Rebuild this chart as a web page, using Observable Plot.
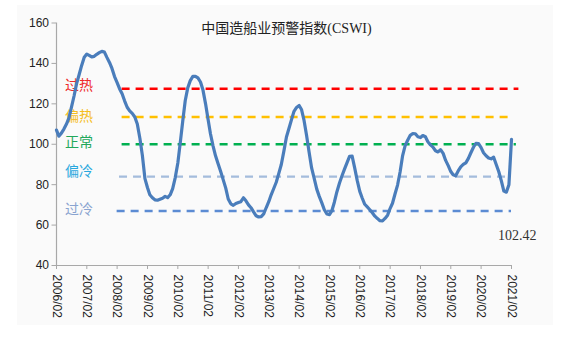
<!DOCTYPE html>
<html>
<head>
<meta charset="utf-8">
<script src="https://cdn.jsdelivr.net/npm/d3@7"></script>
<script src="https://cdn.jsdelivr.net/npm/@observablehq/plot@0.6"></script>
<style>
  html, body { margin: 0; padding: 0; background: #ffffff; }
  #wrap { position: relative; width: 565px; height: 344px; overflow: hidden; }
  #panel { position: absolute; left: 17px; top: 5px; width: 536px; height: 320px; background: #fafafa; }
  #chart { position: absolute; left: 0; top: 0; }
</style>
</head>
<body>
<div id="wrap"><div id="panel"></div><div id="chart"></div></div>
<script>
// ---- data ----
const title = "中国造船业预警指数(CSWI)";
const startYear = 2006, startMonthIndex = 1; // 2006/02
// monthly CSWI values, 2006/02 ... 2021/02 (one row per year, Feb..Jan)
const cswi = [
  107, 104, 105.5, 107.5, 110, 113, 118.5, 124, 130, 134.5, 139, 143,
  144.6, 144, 143.2, 143.5, 144.5, 145.3, 146, 145.6, 143, 140.5, 137.5, 133.5,
  130.5, 127.5, 125, 121.5, 118.3, 116.5, 115.3, 113.5, 110, 103, 94.5, 83,
  78.5, 75, 73.5, 72.5, 72.3, 72.8, 73.3, 74.2, 73.6, 75, 78, 83.5,
  90.7, 100.3, 111.4, 121.5, 128, 131.5, 133.6, 133.6, 132.8, 130.8, 126.8, 120,
  112.1, 105.2, 99.2, 94.3, 90.4, 86.6, 82.5, 78.3, 72.9, 70.5, 69.8, 70.7,
  71.2, 71.6, 73.5, 72, 70, 68.6, 66.5, 64.6, 64, 64.2, 65.5, 68.7,
  71.7, 75, 78.1, 81.2, 85.6, 90, 96.6, 103.6, 107.8, 112.2, 116.3, 118.2,
  119.2, 117.2, 111.8, 104.4, 96, 88.3, 83.1, 77.8, 74.2, 71, 67.6, 65.5,
  65.2, 67, 71.3, 76.4, 80.7, 84.3, 87.7, 90.9, 94, 94.1, 88.4, 82.1,
  76.7, 73.4, 70.3, 69, 67.6, 66.1, 64.4, 63.2, 62.2, 62.1, 63.3, 64.9,
  68.3, 70.8, 75.5, 79.8, 86.4, 94.4, 99.4, 102.1, 104.4, 105.3, 105.2, 103.7,
  103.3, 104.3, 103.7, 101.2, 99.7, 98.6, 96.8, 96.2, 97.3, 95.5, 92, 89.4,
  86.5, 84.9, 84.4, 86.8, 88.8, 90, 90.8, 93, 95.8, 98.5, 100.5, 100.3,
  98.3, 95.8, 94.3, 93.2, 92.8, 93.6, 90, 86.4, 82, 76.8, 76.3, 80,
  102.42
];
const levelNames = ["过热", "偏热", "正常", "偏冷", "过冷"];
const levelValues = [127.5, 113.5, 100, 84, 67];
const levelStart = ["2008-04", "2008-04", "2008-04", "2008-03", "2008-02"];
const levelEnd = ["2021-05", "2021-03", "2021-04", "2021-02", "2021-02"];
const xTickLabels = ["2006/02","2007/02","2008/02","2009/02","2010/02","2011/02","2012/02","2013/02",
  "2014/02","2015/02","2016/02","2017/02","2018/02","2019/02","2020/02","2021/02"];
const yTicks = [40, 60, 80, 100, 120, 140, 160];

// ---- styles ----
const levelColors = ["#ff0000", "#ffc000", "#00b050", "#a4bcdc", "#5b8bd3"];
const labelColors = ["#ee2a2a", "#f5be1e", "#22a85a", "#2aa8de", "#8aa4d0"];
const labelDy = [-3, 0, -2, -5, -1.5];
const lineWidths = [2.6, 2.6, 2.6, 2.4, 2.4];

// ---- build ----
const parseYM = d3.utcParse("%Y-%m");
const parseSlash = d3.utcParse("%Y/%m");
const t0 = new Date(Date.UTC(startYear, startMonthIndex, 1));
const series = cswi.map((v, i) => ({date: d3.utcMonth.offset(t0, i), value: v}));
const levels = levelNames.map((n, i) => ({name: n, value: levelValues[i], x1: parseYM(levelStart[i]), x2: parseYM(levelEnd[i])}));
const xTicks = xTickLabels.map(parseSlash);
const xDomain = [xTicks[0], xTicks[xTicks.length - 1]];

const sans = "'Liberation Sans', Arial, sans-serif";
const cjk = "'Liberation Serif', 'Noto Sans CJK SC', serif";

const chart = Plot.plot({
  width: 565,
  height: 344,
  marginLeft: 56,
  marginRight: 54,
  marginTop: 22.5,
  marginBottom: 79,
  style: {background: "transparent", fontFamily: sans, fontSize: "12px", overflow: "visible"},
  x: {type: "utc", domain: xDomain},
  y: {domain: [40, 160]},
  marks: [
    Plot.ruleX([xDomain[0]], {y1: 40, y2: 160, stroke: "#a8a8a8", strokeWidth: 1.2}),
    Plot.ruleY([40], {stroke: "#a8a8a8", strokeWidth: 1.2}),
    Plot.axisY({ticks: yTicks, tickSize: 4.5, tickPadding: 3, stroke: "#a8a8a8", fill: "#222", fontSize: 12, label: null}),
    Plot.axisX({ticks: xTicks, tickFormat: d3.utcFormat("%Y/%m"), tickRotate: 90, tickSize: 4, tickPadding: 5,
      stroke: "#a8a8a8", fill: "#222", fontSize: 12, label: null}),
    ...levels.map((l, i) => Plot.ruleY([l], {y: "value", x1: "x1", x2: "x2", stroke: levelColors[i],
      strokeWidth: lineWidths[i], strokeDasharray: "8,6"})),
    ...levels.map((l, i) => Plot.text([l], {y: "value", text: "name", frameAnchor: "left", dx: 22.5, dy: labelDy[i],
      fill: labelColors[i], fontSize: 14, fontFamily: cjk, textAnchor: "middle", lineAnchor: "middle"})),
    Plot.line(series, {x: "date", y: "value", stroke: "#4a7dbb", strokeWidth: 3.2, curve: "linear",
      strokeLinejoin: "round", strokeLinecap: "round"}),
    Plot.text([title], {frameAnchor: "top", dx: 2.5, dy: 5.5, fontSize: 14, fontFamily: cjk, fill: "#222",
      textAnchor: "middle", lineAnchor: "middle"}),
    Plot.text([cswi[cswi.length - 1].toFixed(2)], {frameAnchor: "bottom-right", dx: 5.7, dy: -30, fontSize: 14,
      fontFamily: "'Liberation Serif', serif", fill: "#333", textAnchor: "middle", lineAnchor: "middle"})
  ]
});
document.getElementById("chart").appendChild(chart);
</script>
</body>
</html>
